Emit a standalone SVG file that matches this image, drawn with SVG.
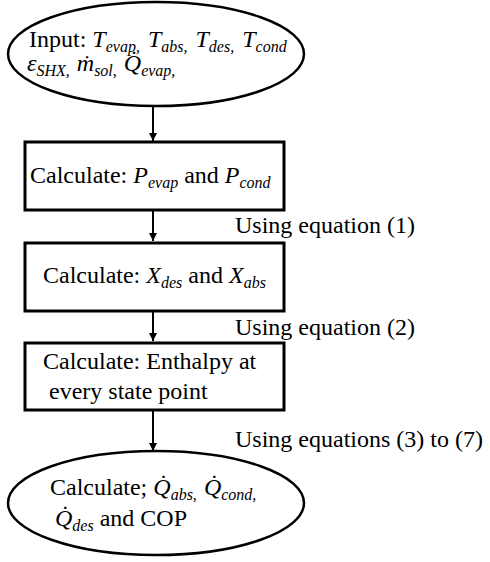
<svg xmlns="http://www.w3.org/2000/svg" width="490" height="562" viewBox="0 0 490 562">
<style>
.t{font-family:'Liberation Serif','Times New Roman',Times,serif;font-size:24px;fill:#000}
.i{font-style:italic}
.s{font-style:italic;font-size:16px}
.shape{fill:#fff;stroke:#000;stroke-width:3}
.ell{fill:#fff;stroke:#000;stroke-width:2.5}
.c{stroke:#000;stroke-width:2;fill:none;marker-end:url(#ah)}
</style>
<defs>
<marker id="ah" viewBox="0 0 10 10" refX="10" refY="5" markerWidth="8" markerHeight="8" markerUnits="userSpaceOnUse" orient="auto">
<path d="M0,0 L10,5 L0,10 z" fill="#000"/>
</marker>
</defs>
<rect width="490" height="562" fill="#fff"/>
<g font-family="'Liberation Serif', 'Times New Roman', Times, serif">
<g id="connectors">
<line class="c" x1="153" y1="106" x2="153" y2="141"/>
<line class="c" x1="153" y1="211" x2="153" y2="241"/>
<line class="c" x1="153" y1="312" x2="153" y2="341"/>
<line class="c" x1="153" y1="411" x2="153" y2="451"/>
<text class="t" x="235" y="233">Using equation (1)</text>
<text class="t" x="235" y="335">Using equation (2)</text>
<text class="t" x="235" y="447">Using equations (3) to (7)</text>
</g>
<g id="input">
<ellipse class="ell" cx="156" cy="54" rx="148" ry="52"/>
<text class="t" x="29" y="47">Input: <tspan class="i">T</tspan><tspan class="s" dy="5">evap,</tspan><tspan dx="2" dy="-5"> </tspan><tspan class="i">T</tspan><tspan class="s" dy="5">abs,</tspan><tspan dx="2" dy="-5"> </tspan><tspan class="i">T</tspan><tspan class="s" dy="5">des,</tspan><tspan dx="2" dy="-5"> </tspan><tspan class="i">T</tspan><tspan class="s" dy="5">cond</tspan></text>
<text class="t" x="27" y="71"><tspan class="i">ε</tspan><tspan class="s" dy="5">SHX,</tspan><tspan dx="1" dy="-5"> </tspan><tspan class="i">ṁ</tspan><tspan class="s" dy="5">sol,</tspan><tspan dx="1" dy="-5"> </tspan><tspan class="i">Q̇</tspan><tspan class="s" dy="5">evap,</tspan></text>
</g>
<g id="pressure">
<rect class="shape" x="25" y="142" width="259" height="68"/>
<text class="t" x="30" y="183">Calculate: <tspan class="i">P</tspan><tspan class="s" dy="5">evap</tspan><tspan dy="-5"> and </tspan><tspan class="i">P</tspan><tspan class="s" dy="5">cond</tspan></text>
</g>
<g id="concentration">
<rect class="shape" x="25" y="243" width="259" height="68"/>
<text class="t" x="43" y="283">Calculate: <tspan class="i">X</tspan><tspan class="s" dy="5">des</tspan><tspan dy="-5"> and </tspan><tspan class="i">X</tspan><tspan class="s" dy="5">abs</tspan></text>
</g>
<g id="enthalpy">
<rect class="shape" x="25" y="343" width="259" height="67"/>
<text class="t" x="43" y="369">Calculate: Enthalpy at</text>
<text class="t" x="49" y="399">every state point</text>
</g>
<g id="output">
<ellipse class="ell" cx="156" cy="503" rx="148" ry="52"/>
<text class="t" x="50" y="495">Calculate; <tspan class="i">Q̇</tspan><tspan class="s" dy="5">abs,</tspan><tspan dx="1" dy="-5"> </tspan><tspan class="i">Q̇</tspan><tspan class="s" dy="5">cond,</tspan></text>
<text class="t" x="55" y="526"><tspan class="i">Q̇</tspan><tspan class="s" dy="5">des</tspan><tspan dy="-5"> and COP</tspan></text>
</g>
</g>
</svg>
